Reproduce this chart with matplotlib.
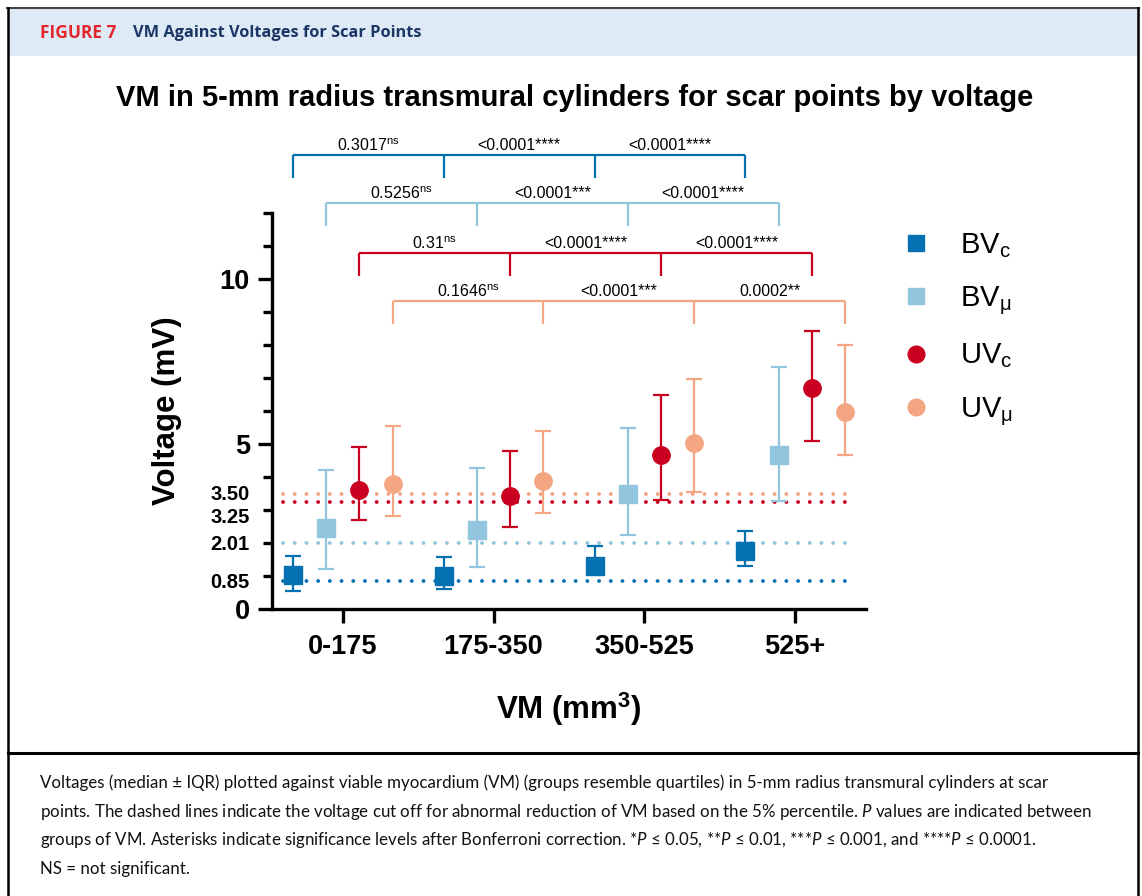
import matplotlib.pyplot as plt
import matplotlib.patches as mpatches
from matplotlib.lines import Line2D
import numpy as np

plt.rcParams['font.family'] = ['Liberation Sans', 'DejaVu Sans']
plt.rcParams['mathtext.fontset'] = 'custom'
plt.rcParams['mathtext.rm'] = 'Liberation Sans'
plt.rcParams['mathtext.it'] = 'Lato:italic'

# data: median, lower and upper IQR bound (mV) per VM group
groups = ['0-175', '175-350', '350-525', '525+']
series = ['BVc', 'BVmu', 'UVc', 'UVmu']
labels = [r'BV$_\mathregular{c}$', r'BV$_\mathregular{μ}$', r'UV$_\mathregular{c}$', r'UV$_\mathregular{μ}$']
colors = ['#0571b0', '#92c5de', '#ca0020', '#f4a582']
markers = ['s', 's', 'o', 'o']

median = {
    'BVc':  [1.02, 1.00, 1.31, 1.76],
    'BVmu': [2.46, 2.40, 3.47, 4.68],
    'UVc':  [3.62, 3.43, 4.68, 6.71],
    'UVmu': [3.80, 3.89, 5.02, 5.98],
}
low = {
    'BVc':  [0.55, 0.61, 1.10, 1.31],
    'BVmu': [1.21, 1.28, 2.25, 3.26],
    'UVc':  [2.70, 2.49, 3.29, 5.09],
    'UVmu': [2.83, 2.92, 3.55, 4.66],
}
high = {
    'BVc':  [1.62, 1.58, 1.92, 2.37],
    'BVmu': [4.22, 4.26, 5.49, 7.32],
    'UVc':  [4.91, 4.80, 6.47, 8.43],
    'UVmu': [5.56, 5.38, 6.96, 7.99],
}
cutoffs = [0.85, 2.01, 3.25, 3.50]
pvals = [
    [r'0.3017$^\mathregular{ns}$', '<0.0001****', '<0.0001****'],
    [r'0.5256$^\mathregular{ns}$', '<0.0001***', '<0.0001****'],
    [r'0.31$^\mathregular{ns}$', '<0.0001****', '<0.0001****'],
    [r'0.1646$^\mathregular{ns}$', '<0.0001***', '0.0002**'],
]
bracket_y = [13.75, 12.3, 10.8, 9.34]

offsets = [-0.33, -0.11, 0.11, 0.33]

W, H = 1142, 896
fig = plt.figure(figsize=(W / 100, H / 100), dpi=100)

def fx(px):
    return px / W

def fy(py):
    return 1 - py / H

# page frame / header / caption
fig.add_artist(mpatches.Rectangle((fx(9), fy(56)), fx(1129), 47 / H, transform=fig.transFigure,
                                  facecolor='#deeaf6', edgecolor='none'))
fig.add_artist(Line2D([fx(7), fx(1139)], [fy(8), fy(8)], color='#444444', lw=1.5))
fig.add_artist(Line2D([fx(8), fx(8)], [fy(8), 0], color='black', lw=1.8))
fig.add_artist(Line2D([fx(1138), fx(1138)], [fy(8), 0], color='black', lw=1.8))
fig.add_artist(Line2D([fx(8), fx(1138)], [fy(753), fy(753)], color='black', lw=2.2))

fig.text(fx(40), fy(33), 'FIGURE 7', color='#e3262d', fontsize=12.5, fontweight='bold',
         family=['Open Sans', 'DejaVu Sans'], va='center')
fig.text(fx(133), fy(33), 'VM Against Voltages for Scar Points', color='#1b3564', fontsize=11.8,
         fontweight='bold', family=['Open Sans', 'DejaVu Sans'], va='center')

caption = [
    'Voltages (median ± IQR) plotted against viable myocardium (VM) (groups resemble quartiles) in 5-mm radius transmural cylinders at scar',
    r'points. The dashed lines indicate the voltage cut off for abnormal reduction of VM based on the 5% percentile. $\mathit{P}$ values are indicated between',
    r'groups of VM. Asterisks indicate significance levels after Bonferroni correction. *$\mathit{P}$ ≤ 0.05, **$\mathit{P}$ ≤ 0.01, ***$\mathit{P}$ ≤ 0.001, and ****$\mathit{P}$ ≤ 0.0001.',
    'NS = not significant.',
]
for i, line in enumerate(caption):
    fig.text(fx(40), fy(783 + 28.5 * i), line, fontsize=12.2, family=['Lato', 'DejaVu Sans'],
             va='center', color='#111111')

# chart
fig.text(fx(575), fy(98), 'VM in 5-mm radius transmural cylinders for scar points by voltage',
         fontsize=21, fontweight='bold', ha='center', va='center')

ax = fig.add_axes([fx(272), fy(609), (866 - 272) / W, (609 - 213) / H])
x = np.arange(len(groups))

for k, s in enumerate(series):
    xs = x + offsets[k]
    m = np.array(median[s])
    yerr = [m - np.array(low[s]), np.array(high[s]) - m]
    ax.errorbar(xs, m, yerr=yerr, fmt=markers[k], color=colors[k], ms=12.5, elinewidth=1.6,
                capsize=5.5, capthick=1.6, zorder=3)

for c, col in zip(cutoffs, colors):
    ax.plot([-0.40, 3.39], [c, c], color=col, lw=2.8, linestyle=(0, (0.01, 3.0)),
            dash_capstyle='round', zorder=2)

# significance brackets
for k in range(len(series)):
    xs = x + offsets[k]
    yb = bracket_y[k]
    leg = 0.7
    ax.plot([xs[0], xs[-1]], [yb, yb], color=colors[k], lw=1.6, clip_on=False,
            solid_capstyle='butt')
    for xv in xs:
        ax.plot([xv, xv], [yb, yb - leg], color=colors[k], lw=1.6, clip_on=False,
                solid_capstyle='butt')
    for j in range(len(xs) - 1):
        ax.annotate(pvals[k][j], xy=((xs[j] + xs[j + 1]) / 2, yb), xytext=(0, 1.5),
                    textcoords='offset points', ha='center', va='bottom', fontsize=11.5,
                    annotation_clip=False)

ax.set_xlim(-0.47, 3.47)
ax.set_ylim(0, 12)
for side in ['top', 'right']:
    ax.spines[side].set_visible(False)
for side in ['left', 'bottom']:
    ax.spines[side].set_linewidth(2.4)

ax.set_xticks(x)
ax.set_xticklabels(groups, fontsize=19.5, fontweight='bold')
ax.tick_params(axis='x', length=10, width=2.4, pad=8)

ax.set_yticks([0, 5, 10])
ax.set_yticklabels(['0', '5', '10'], fontsize=19.5, fontweight='bold')
ax.set_yticks([1, 2, 3, 4, 6, 7, 8, 9, 11, 12], minor=True)
ax.tick_params(axis='y', which='major', length=10, width=2.4, pad=6)
ax.tick_params(axis='y', which='minor', length=6.5, width=2.4)

small_lab = ['0.85', '2.01', '3.25', '3.50']
small_pos = [0.80, 1.95, 2.76, 3.47]
for lab, yp in zip(small_lab, small_pos):
    ax.annotate(lab, xy=(0, yp), xycoords=('axes fraction', 'data'), xytext=(-16, 0),
                textcoords='offset points', ha='right', va='center', fontsize=14.5,
                fontweight='bold')

ax.set_xlabel(r'VM (mm$^\mathregular{3}$)', fontsize=22.5, fontweight='bold', labelpad=22)
ax.set_ylabel('Voltage (mV)', fontsize=22.5, fontweight='bold', labelpad=27)

handles = [Line2D([], [], marker=markers[k], color=colors[k], linestyle='none', markersize=12)
           for k in range(len(series))]
fig.legend(handles, labels, loc='upper left', bbox_to_anchor=(fx(872), fy(205)),
           frameon=False, fontsize=21, handletextpad=0.9, labelspacing=0.85,
           handlelength=1.2)

fig.savefig('out.png', dpi=100)
